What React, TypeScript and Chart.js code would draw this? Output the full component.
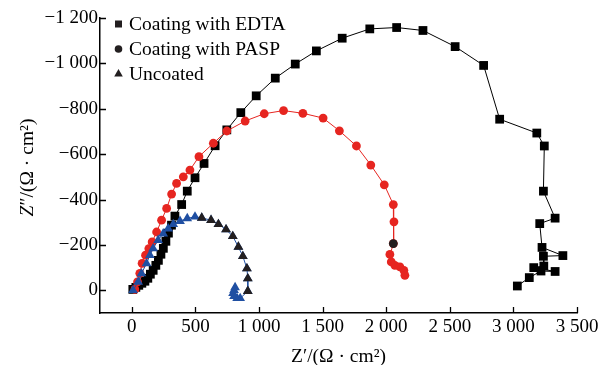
import React, { useEffect, useRef } from "react";
import { Chart, registerables } from "chart.js";

Chart.register(...registerables);

const seriesLabels = ["Coating with EDTA", "Coating with PASP", "Uncoated"];
const xTicks = [0, 500, 1000, 1500, 2000, 2500, 3000, 3500];
const yTicks = [0, 200, 400, 600, 800, 1000, 1200];
const xTitleMain = "Z";
const xTitleRest = "′/(Ω · cm²)";
const yTitleMain = "Z";
const yTitleRest = "″/(Ω · cm²)";

// Coating with EDTA (black squares)
const edtaX = [8, 32, 55, 79, 103, 126, 146, 168, 189, 209, 229, 248, 268, 288, 312, 339, 392, 436, 497, 568, 655, 747, 857, 978, 1128, 1285, 1451, 1654, 1871, 2082, 2289, 2542, 2766, 2892, 3184, 3243, 3236, 3328, 3207, 3225, 3389, 3236, 3239, 3160, 3328, 3217, 3125, 3031];
const edtaY = [4, 13, 22, 31, 40, 53, 71, 88, 110, 132, 159, 185, 216, 252, 287, 327, 378, 437, 496, 559, 637, 707, 783, 857, 935, 997, 1055, 1111, 1152, 1158, 1145, 1074, 991, 754, 693, 636, 437, 318, 294, 189, 153, 150, 107, 100, 83, 85, 56, 19];

// Coating with PASP: fitted (red) and visible measured point (black)
const paspFitX = [24, 45, 63, 81, 108, 134, 160, 195, 234, 274, 313, 352, 405, 457, 528, 641, 747, 891, 1041, 1193, 1345, 1504, 1632, 1766, 1879, 1985, 2056, 2061, 2056, 2029, 2040, 2068, 2108, 2139, 2147];
const paspFitY = [4, 37, 75, 119, 155, 184, 213, 257, 309, 361, 424, 471, 500, 530, 589, 648, 702, 746, 778, 792, 780, 759, 703, 636, 552, 465, 378, 302, 206, 158, 125, 110, 103, 88, 66];
const paspX = [2056];
const paspY = [206];

// Uncoated: fitted (blue) and measured (black triangles)
const uncoatedFitX = [10, 50, 76, 116, 142, 168, 207, 247, 286, 326, 379, 436, 497, 550, 623, 681, 741, 794, 838, 873, 905, 912, 912, 852, 828, 804, 796, 804, 812];
const uncoatedFitY = [0, 37, 74, 118, 155, 184, 221, 250, 272, 291, 305, 317, 324, 319, 309, 291, 268, 238, 191, 150, 96, 52, -4, -35, -35, -26, -13, 0, 13];
const uncoatedX = [550, 623, 681, 741, 794, 838, 873, 905, 912, 912];
const uncoatedY = [319, 309, 291, 268, 238, 191, 150, 96, 52, -4];

const RED = "#e62520";
const BLUE = "#1f4fa2";
const DARK = "#231f20";
const FONT = '"Liberation Serif"';

const zip = (xs: number[], ys: number[]) => xs.map((x, i) => ({ x, y: ys[i] }));

function fmtNum(v: number): string {
  const a = Math.abs(v);
  if (a >= 1000) {
    return `${Math.floor(a / 1000)} ${String(a % 1000).padStart(3, "0")}`;
  }
  return String(a);
}

function drawTitle(ctx: CanvasRenderingContext2D, main: string, rest: string, cx: number, cy: number, rotate: boolean, italic: boolean) {
  ctx.save();
  ctx.translate(cx, cy);
  if (rotate) ctx.rotate(-Math.PI / 2);
  const f1 = `${italic ? "italic " : ""}19.5px ${FONT}`;
  const f2 = `19.5px ${FONT}`;
  ctx.font = f1;
  const w1 = ctx.measureText(main).width;
  ctx.font = f2;
  const w2 = ctx.measureText(rest).width;
  const x0 = -(w1 + w2) / 2;
  ctx.textBaseline = "middle";
  ctx.textAlign = "left";
  ctx.fillStyle = "#000";
  ctx.font = f1;
  ctx.fillText(main, x0, 0);
  ctx.font = f2;
  ctx.fillText(rest, x0 + w1, 0);
  ctx.restore();
}

const decor = {
  id: "decor",
  afterDraw(chart: any) {
    const { ctx, chartArea: ca, scales } = chart;
    const xs = scales.x;
    const ys = scales.y;
    ctx.save();
    ctx.strokeStyle = "#000";
    ctx.lineWidth = 1.3;
    ctx.beginPath();
    for (const v of xTicks) {
      const px = Math.round(xs.getPixelForValue(v)) + 0.5;
      ctx.moveTo(px, ca.bottom);
      ctx.lineTo(px, ca.bottom - 6);
    }
    for (const v of yTicks) {
      const py = Math.round(ys.getPixelForValue(v)) + 0.5;
      ctx.moveTo(ca.left, py);
      ctx.lineTo(ca.left + 6, py);
    }
    ctx.stroke();

    drawTitle(ctx, xTitleMain, xTitleRest, (ca.left + ca.right) / 2, 357, false, false);
    drawTitle(ctx, yTitleMain, yTitleRest, 28, (ca.top + ca.bottom) / 2 + 2, true, true);

    // legend
    const mx = 118.5;
    const tx = 129;
    const rows = [24, 49, 73.5];
    ctx.fillStyle = DARK;
    ctx.fillRect(mx - 3.5, rows[0] - 3.5, 7, 7);
    ctx.beginPath();
    ctx.arc(mx, rows[1], 3.8, 0, Math.PI * 2);
    ctx.fill();
    ctx.beginPath();
    ctx.moveTo(mx, rows[2] - 4.5);
    ctx.lineTo(mx + 4.3, rows[2] + 3);
    ctx.lineTo(mx - 4.3, rows[2] + 3);
    ctx.closePath();
    ctx.fill();
    ctx.font = `19.5px ${FONT}`;
    ctx.textBaseline = "middle";
    ctx.textAlign = "left";
    ctx.fillStyle = "#000";
    seriesLabels.forEach((t, i) => ctx.fillText(t, tx, rows[i] + 1));
    ctx.restore();
  },
};

export default function App() {
  const ref = useRef<HTMLCanvasElement | null>(null);
  useEffect(() => {
    let chart: any = null;
    let cancelled = false;
    const build = () => {
      if (cancelled || !ref.current) return;
      chart = new Chart(ref.current, {
        type: "scatter",
        data: {
          datasets: [
            {
              label: "Uncoated",
              data: zip(uncoatedX, uncoatedY),
              showLine: false,
              pointStyle: "triangle",
              pointRadius: 5.6,
              backgroundColor: DARK,
              borderColor: DARK,
              borderWidth: 0,
              order: 1,
            },
            {
              label: "Uncoated fit",
              data: zip(uncoatedFitX, uncoatedFitY),
              showLine: true,
              borderColor: BLUE,
              borderWidth: 1,
              pointStyle: "triangle",
              pointRadius: 5.6,
              pointBackgroundColor: BLUE,
              pointBorderColor: BLUE,
              pointBorderWidth: 0,
              order: 2,
            },
            {
              label: "Coating with PASP",
              data: zip(paspX, paspY),
              showLine: false,
              pointStyle: "circle",
              pointRadius: 4.4,
              backgroundColor: DARK,
              borderColor: DARK,
              borderWidth: 0,
              order: 3,
            },
            {
              label: "PASP fit",
              data: zip(paspFitX, paspFitY),
              showLine: true,
              borderColor: RED,
              borderWidth: 1,
              pointStyle: "circle",
              pointRadius: 4.4,
              pointBackgroundColor: RED,
              pointBorderColor: RED,
              pointBorderWidth: 0,
              order: 4,
            },
            {
              label: "Coating with EDTA",
              data: zip(edtaX, edtaY),
              showLine: true,
              borderColor: "#000",
              borderWidth: 1,
              pointStyle: "rect",
              pointRadius: 6.2,
              pointBackgroundColor: "#000",
              pointBorderColor: "#000",
              pointBorderWidth: 0,
              order: 5,
            },
          ],
        },
        options: {
          responsive: false,
          animation: false,
          devicePixelRatio: 1,
          layout: { padding: { top: 18, right: 32, left: 0, bottom: 0 } },
          plugins: { legend: { display: false }, tooltip: { enabled: false } },
          scales: {
            x: {
              type: "linear",
              min: -250,
              max: 3500,
              afterBuildTicks: (s: any) => {
                s.ticks = xTicks.map((v) => ({ value: v }));
              },
              afterFit: (s: any) => {
                s.height = 52;
              },
              grid: { display: false, drawTicks: false },
              border: { display: true, color: "#000", width: 1.5 },
              ticks: {
                font: { family: FONT, size: 19 },
                color: "#000",
                padding: 3,
                maxRotation: 0,
                autoSkip: false,
                callback: (v: any) => fmtNum(Number(v)),
              },
            },
            y: {
              type: "linear",
              min: -100,
              max: 1200,
              afterBuildTicks: (s: any) => {
                s.ticks = yTicks.map((v) => ({ value: v }));
              },
              afterFit: (s: any) => {
                s.width = 100;
              },
              grid: { display: false, drawTicks: false },
              border: { display: true, color: "#000", width: 1.5 },
              ticks: {
                font: { family: FONT, size: 19 },
                color: "#000",
                padding: 2,
                autoSkip: false,
                callback: (v: any) => (Number(v) === 0 ? "0" : "−" + fmtNum(Number(v))),
              },
            },
          },
        },
        plugins: [decor],
      } as any);
    };
    const fonts: any = (document as any).fonts;
    if (fonts && fonts.load) {
      Promise.all([
        fonts.load(`19px ${FONT}`, "Coating 0123"),
        fonts.load(`italic 19px ${FONT}`, "Z"),
      ])
        .catch(() => null)
        .then(build);
    } else {
      build();
    }
    return () => {
      cancelled = true;
      if (chart) chart.destroy();
    };
  }, []);
  return (
    <div style={{ position: "absolute", left: 0, top: 0, width: 609, height: 365, background: "#fff" }}>
      <canvas ref={ref} width={609} height={365} style={{ display: "block", width: 609, height: 365 }} />
    </div>
  );
}
